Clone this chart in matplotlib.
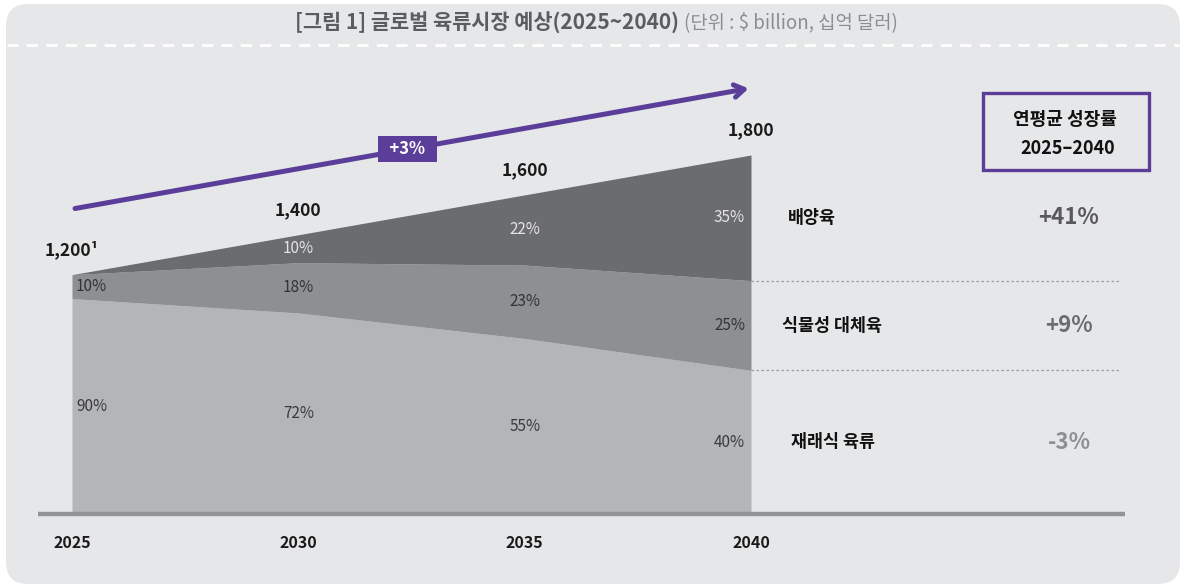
import matplotlib.pyplot as plt
from matplotlib.patches import FancyBboxPatch

plt.rcParams['font.family'] = ['Noto Sans CJK KR', 'DejaVu Sans']

# data
years = [2025, 2030, 2035, 2040]
totals = [1200, 1400, 1600, 1800]
conventional_pct = [90, 72, 55, 40]
plant_pct = [10, 18, 23, 25]
cultivated_pct = [0, 10, 22, 35]
total_labels = ['1,200¹', '1,400', '1,600', '1,800']
segments = ['재래식 육류', '식물성 대체육', '배양육']
cagr = ['-3%', '+9%', '+41%']
avg_growth = '+3%'

conv = [t * p / 100 for t, p in zip(totals, conventional_pct)]
plant = [t * p / 100 for t, p in zip(totals, plant_pct)]
cult = [t * p / 100 for t, p in zip(totals, cultivated_pct)]
lvl1 = conv
lvl2 = [a + b for a, b in zip(conv, plant)]
lvl3 = [a + b for a, b in zip(lvl2, cult)]

fig = plt.figure(figsize=(11.85, 5.87), dpi=100)
fig.patch.set_facecolor('white')

# background card
card = FancyBboxPatch((0.06, 0.03), 11.74, 5.80, boxstyle='round,pad=0,rounding_size=0.22',
                      transform=fig.dpi_scale_trans, facecolor='#e6e7e9', edgecolor='none', zorder=-5)
fig.patches.append(card)

# title
fig.text(0.573, 1 - 23 / 587, '[그림 1] 글로벌 육류시장 예상(2025~2040)', ha='right', va='center',
         fontsize=15, fontweight='bold', color='#5b5c5e', zorder=3)
fig.text(0.577, 1 - 23 / 587, '(단위 : $ billion, 십억 달러)', ha='left', va='center',
         fontsize=13.5, color='#8c8d90', zorder=3)
fig.add_artist(plt.Line2D([0.006, 0.995], [1 - 45 / 587] * 2, transform=fig.transFigure,
                          color='white', lw=2, ls=(0, (4, 3)), zorder=3))

ax = fig.add_axes([0, 0, 1, 1])
ax.set_facecolor('none')
px_year = 679 / 15
px_val = 359 / 1800
ax.set_xlim(2025 - 72 / px_year, 2025 + (1185 - 72) / px_year)
ax.set_ylim(-(587 - 514) / px_val, 514 / px_val)
ax.axis('off')

c_conv, c_plant, c_cult = '#b3b5b8', '#8d8f92', '#6b6c70'
ax.fill_between(years, 0, lvl1, color=c_conv, lw=0)
ax.fill_between(years, lvl1, lvl2, color=c_plant, lw=0)
ax.fill_between(years, lvl2, lvl3, color=c_cult, lw=0)

# baseline
ax.plot([2025 - 34 / px_year, 2025 + 1053 / px_year], [0, 0], color='#929396', lw=3.2,
        solid_capstyle='butt')

# percent labels
for i, y in enumerate(years):
    if i == 0:
        ha, x = 'left', y + 4 / px_year
    elif i == len(years) - 1:
        ha, x = 'right', y - 6 / px_year
    else:
        ha, x = 'center', y
    ax.text(x, lvl1[i] / 2, f'{conventional_pct[i]}%', ha=ha, va='center', fontsize=11, color='#3a3a3c')
    ax.text(x, (lvl1[i] + lvl2[i]) / 2, f'{plant_pct[i]}%', ha=ha, va='center', fontsize=11, color='#333335')
    if cultivated_pct[i] > 0:
        ax.text(x, (lvl2[i] + lvl3[i]) / 2, f'{cultivated_pct[i]}%', ha=ha, va='center',
                fontsize=11, color='#e4e4e6')
    ax.annotate(total_labels[i], (y, totals[i]), xytext=(0, 18), textcoords='offset points',
                ha='center', va='center', fontsize=12.5, fontweight='bold', color='#1a1a1a')
    ax.annotate(str(y), (y, 0), xytext=(0, -21), textcoords='offset points',
                ha='center', va='center', fontsize=11.5, fontweight='bold', color='#1a1a1a')

# growth arrow
purple = '#5a3e99'
ax.annotate('', xy=(0.634, 1 - 88 / 587), xytext=(0.061, 1 - 209 / 587),
            xycoords='axes fraction', textcoords='axes fraction',
            arrowprops=dict(arrowstyle='->,head_length=0.7,head_width=0.45', color=purple, lw=3.6))
ax.text(0.344, 1 - 149 / 587, f'  {avg_growth}  ', transform=ax.transAxes, ha='center', va='center',
        fontsize=12, fontweight='bold', color='white',
        bbox=dict(boxstyle='square,pad=0.25', facecolor=purple, edgecolor='none'))

# right-side legend
last = len(years) - 1
bounds = [(0, lvl1[last]), (lvl1[last], lvl2[last]), (lvl2[last], lvl3[last])]
cagr_colors = ['#8f9093', '#6c6d70', '#59595c']
seg_x = [2040 + 82 / px_year, 2040 + 81 / px_year, 2040 + 61 / px_year]
for j, (lo, hi) in enumerate(bounds):
    mid = (lo + hi) / 2
    ax.text(seg_x[j], mid, segments[j], ha='center', va='center', fontsize=12.5,
            fontweight='bold', color='#111111')
    ax.text(2040 + 318 / px_year, mid, cagr[j], ha='center', va='center', fontsize=16,
            fontweight='bold', color=cagr_colors[j])
for v in (lvl1[last], lvl2[last]):
    ax.plot([2040, 2040 + 369 / px_year], [v, v], color='#9a9b9e', lw=0.9, ls=(0, (2, 2)))

# CAGR box
ax.add_patch(FancyBboxPatch((983 / 1185, 1 - 170 / 587), 166 / 1185, 77 / 587,
                            boxstyle='square,pad=0', transform=ax.transAxes,
                            facecolor='none', edgecolor=purple, lw=2.4))
ax.text(1065 / 1185, 1 - 120 / 587, '연평균 성장률', transform=ax.transAxes, ha='center',
        va='center', fontsize=13, fontweight='bold', color='#111111')
ax.text(1068 / 1185, 1 - 149 / 587, '2025–2040', transform=ax.transAxes, ha='center',
        va='center', fontsize=13, fontweight='bold', color='#111111')

fig.savefig('out.png', dpi=100, facecolor='white')
